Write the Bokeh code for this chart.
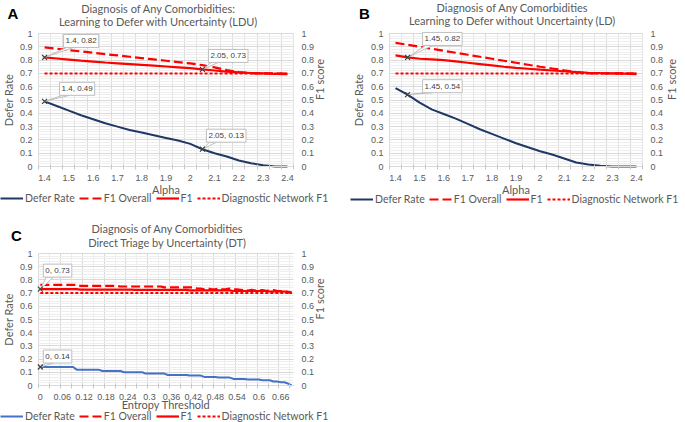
import math
import numpy as np
from bokeh.plotting import figure
from bokeh.models import (Range1d, FixedTicker, LinearAxis, Label, Legend, LegendItem,
                          CustomJSTickFormatter, Grid)
from bokeh.layouts import row, column
from bokeh.embed import file_html
from bokeh.resources import INLINE

# ---------------- data ----------------
alpha = [1.4, 1.45, 1.5, 1.55, 1.6, 1.65, 1.7, 1.75, 1.8, 1.85, 1.9,
         1.95, 2.0, 2.05, 2.1, 2.15, 2.2, 2.25, 2.3, 2.35, 2.4]
alpha_ticks = [1.4, 1.5, 1.6, 1.7, 1.8, 1.9, 2.0, 2.1, 2.2, 2.3, 2.4]

# Panel A: Learning to Defer with Uncertainty (LDU)
ldu_defer = [0.49, 0.455, 0.42, 0.385, 0.355, 0.325, 0.30, 0.275, 0.255, 0.235, 0.215,
             0.195, 0.17, 0.13, 0.10, 0.075, 0.045, 0.025, 0.01, 0.0, 0.0]
ldu_f1_overall = [0.895, 0.885, 0.875, 0.865, 0.855, 0.845, 0.835, 0.825, 0.815, 0.805, 0.795,
                  0.785, 0.775, 0.762, 0.745, 0.725, 0.71, 0.70, 0.70, 0.70, 0.698]
ldu_f1 = [0.82, 0.812, 0.804, 0.796, 0.789, 0.782, 0.776, 0.77, 0.764, 0.758, 0.752,
          0.746, 0.74, 0.73, 0.722, 0.714, 0.707, 0.703, 0.70, 0.697, 0.695]

# Panel B: Learning to Defer without Uncertainty (LD)
ld_defer = [0.59, 0.54, 0.48, 0.43, 0.395, 0.36, 0.32, 0.28, 0.245, 0.21, 0.175,
            0.145, 0.115, 0.09, 0.06, 0.03, 0.015, 0.005, 0.0, 0.0, 0.0]
ld_f1_overall = [0.93, 0.915, 0.90, 0.885, 0.87, 0.855, 0.84, 0.825, 0.81, 0.795, 0.78,
                 0.765, 0.75, 0.737, 0.723, 0.71, 0.70, 0.70, 0.70, 0.70, 0.698]
ld_f1 = [0.835, 0.82, 0.81, 0.805, 0.80, 0.79, 0.78, 0.77, 0.76, 0.75, 0.742,
         0.735, 0.728, 0.722, 0.716, 0.71, 0.705, 0.702, 0.70, 0.698, 0.695]

# Panel C: Direct Triage by Uncertainty (DT)
entropy = [0.00, 0.01, 0.02, 0.03, 0.04, 0.05, 0.06, 0.07, 0.08, 0.09,
           0.10, 0.11, 0.12, 0.13, 0.14, 0.15, 0.16, 0.17, 0.18, 0.19,
           0.20, 0.21, 0.22, 0.23, 0.24, 0.25, 0.26, 0.27, 0.28, 0.29,
           0.30, 0.31, 0.32, 0.33, 0.34, 0.35, 0.36, 0.37, 0.38, 0.39,
           0.40, 0.41, 0.42, 0.43, 0.44, 0.45, 0.46, 0.47, 0.48, 0.49,
           0.50, 0.51, 0.52, 0.53, 0.54, 0.55, 0.56, 0.57, 0.58, 0.59,
           0.60, 0.61, 0.62, 0.63, 0.64, 0.65, 0.66, 0.67, 0.68, 0.69]
entropy_ticks = [0, 0.06, 0.12, 0.18, 0.24, 0.3, 0.36, 0.42, 0.48, 0.54, 0.6, 0.66]
dt_defer = [0.14, 0.14, 0.14, 0.14, 0.14, 0.14, 0.14, 0.14, 0.14, 0.14,
            0.12, 0.12, 0.12, 0.12, 0.12, 0.12, 0.12, 0.11, 0.11, 0.11,
            0.11, 0.11, 0.11, 0.10, 0.10, 0.10, 0.10, 0.10, 0.10, 0.09,
            0.09, 0.09, 0.09, 0.09, 0.09, 0.08, 0.08, 0.08, 0.08, 0.08,
            0.08, 0.075, 0.075, 0.075, 0.075, 0.065, 0.065, 0.065, 0.065, 0.06,
            0.06, 0.06, 0.06, 0.05, 0.05, 0.05, 0.05, 0.045, 0.045, 0.045,
            0.045, 0.04, 0.04, 0.04, 0.03, 0.03, 0.025, 0.025, 0.015, 0.0]
dt_f1_overall = [0.763, 0.763, 0.763, 0.763, 0.763, 0.763, 0.763, 0.763, 0.763, 0.763,
                 0.763, 0.755, 0.755, 0.755, 0.755, 0.755, 0.755, 0.755, 0.755, 0.755,
                 0.755, 0.755, 0.75, 0.75, 0.75, 0.75, 0.75, 0.75, 0.75, 0.75,
                 0.75, 0.75, 0.75, 0.75, 0.743, 0.743, 0.743, 0.743, 0.743, 0.743,
                 0.743, 0.743, 0.743, 0.735, 0.735, 0.728, 0.735, 0.728, 0.728, 0.735,
                 0.728, 0.73, 0.735, 0.728, 0.728, 0.725, 0.722, 0.72, 0.725, 0.72,
                 0.72, 0.722, 0.718, 0.72, 0.722, 0.718, 0.715, 0.715, 0.71, 0.705]
dt_f1 = [0.73, 0.73, 0.73, 0.73, 0.73, 0.73, 0.73, 0.73, 0.73, 0.73,
         0.73, 0.727, 0.727, 0.727, 0.727, 0.727, 0.727, 0.727, 0.727, 0.727,
         0.727, 0.727, 0.727, 0.727, 0.727, 0.727, 0.724, 0.724, 0.724, 0.724,
         0.724, 0.724, 0.724, 0.724, 0.724, 0.724, 0.724, 0.724, 0.724, 0.724,
         0.724, 0.72, 0.72, 0.72, 0.72, 0.72, 0.72, 0.72, 0.72, 0.72,
         0.72, 0.72, 0.72, 0.716, 0.716, 0.716, 0.716, 0.716, 0.716, 0.716,
         0.716, 0.716, 0.716, 0.712, 0.712, 0.712, 0.712, 0.712, 0.705, 0.70]

diagnostic_network_f1 = 0.70

# ---------------- styles ----------------
NAVY = "#203864"
BLUE = "#4472c4"
RED = "#ff0000"
GRID = "#d9d9d9"
VGRID = "#e2e2e2"
MINOR = "#eeeeee"
TXT = "#595959"
HUM = "Lato"
SANS = "Liberation Sans"

y_major = [i / 10 for i in range(11)]
y_minor = [i / 50 for i in range(51)]


def fmt():
    return CustomJSTickFormatter(code="return String(Math.round(tick*100)/100);")


def panel(x, defer, f1o, f1, *, W, H, box, xr, xticks, xgrid_major, xgrid_minor,
          xgrid_minor_color, xminor_ticks, defer_color, letter, letter_xy, titles,
          title_x, title_ys, xtitle, ylab_standoff, rlab_standoff, xlab_standoff,
          legend_xy, callouts):
    """box = (left, right, top, bottom) of the plotting area in pixels."""
    bl, br, bt, bb = box
    x0, x1 = xr
    ux = (x1 - x0) / (br - bl)          # data units per pixel (x)
    uy = 1.0 / (bb - bt)                # data units per pixel (y)
    p = figure(width=W, height=H,
               x_range=Range1d(x0 - bl * ux, x1 + (W - br) * ux),
               y_range=Range1d(-(H - bb) * uy, 1 + bt * uy),
               output_backend="svg", toolbar_location=None, title=None,
               min_border=0, x_axis_type=None, y_axis_type=None)
    p.outline_line_color = None

    # ---- axes at the plotting-area edges ----
    la = LinearAxis(fixed_location=x0, bounds=(0, 1), ticker=FixedTicker(ticks=y_major),
                    formatter=fmt(), axis_label="Defer Rate",
                    axis_label_standoff=ylab_standoff)
    ra = LinearAxis(fixed_location=x1, bounds=(0, 1), ticker=FixedTicker(ticks=y_major),
                    formatter=fmt(), axis_label="F1 score",
                    axis_label_standoff=rlab_standoff, axis_label_orientation=math.pi / 2)
    xa = LinearAxis(fixed_location=0, bounds=(x0, x1),
                    ticker=FixedTicker(ticks=xticks, minor_ticks=xminor_ticks),
                    formatter=fmt(), axis_label=xtitle, axis_label_standoff=xlab_standoff)
    p.add_layout(la, "left")
    p.add_layout(ra, "right")
    p.add_layout(xa, "below")
    for ax in (la, ra):
        ax.axis_line_color = None
        ax.major_tick_line_color = None
        ax.minor_tick_line_color = None
        ax.major_tick_out = 0
        ax.major_tick_in = 0
        ax.major_label_standoff = 6
    ra.major_label_standoff = 8
    xa.axis_line_color = GRID
    xa.major_tick_line_color = None
    xa.major_tick_out = 0
    xa.major_tick_in = 0
    xa.minor_tick_line_color = "#c8c8c8"
    xa.minor_tick_out = 3
    xa.minor_tick_in = 2
    xa.major_label_standoff = 5
    for ax in (la, ra, xa):
        ax.major_label_text_font = SANS
        ax.major_label_text_font_size = "9px"
        ax.major_label_text_color = TXT
        ax.axis_label_text_font = HUM
        ax.axis_label_text_font_size = "11px"
        ax.axis_label_text_font_style = "normal"
        ax.axis_label_text_color = TXT

    # ---- grids limited to the plotting area ----
    p.add_layout(Grid(dimension=0, ticker=FixedTicker(ticks=xgrid_major,
                                                      minor_ticks=xgrid_minor),
                      bounds=(x0, x1), cross_bounds=(0, 1), grid_line_color=GRID,
                      minor_grid_line_color=xgrid_minor_color))
    p.add_layout(Grid(dimension=1, ticker=FixedTicker(ticks=y_major, minor_ticks=y_minor),
                      bounds=(0, 1), cross_bounds=(x0, x1), grid_line_color=GRID,
                      minor_grid_line_color=MINOR))

    # ---- series ----
    r_def = p.line(x, defer, line_color=defer_color, line_width=2)
    r_f1o = p.line(x, f1o, line_color=RED, line_width=2.2, line_dash="9 4")
    r_f1 = p.line(x, f1, line_color=RED, line_width=2.2)
    r_dn = p.line(x, [diagnostic_network_f1] * len(x), line_color=RED, line_width=2,
                  line_dash="3 2")

    # ---- data callouts ----
    for (xi, yi, lo, bo) in callouts:
        p.patch([xi, xi + (lo + 3) * ux, xi + (lo + 10) * ux],
                [yi, yi + bo * uy, yi + bo * uy],
                fill_color="white", line_color="#bfbfbf", line_width=1)
        p.scatter([xi], [yi], marker="x", size=7, line_color="#404040", line_width=1.2)
        p.add_layout(Label(x=xi, y=yi, x_offset=lo, y_offset=bo,
                           text=f"{xi:g}, {yi:g}", text_align="left", text_baseline="bottom",
                           text_font=SANS, text_font_size="8px", text_color="#404040",
                           padding=2, background_fill_color="white",
                           border_line_color="#bfbfbf", border_line_width=1))

    # ---- panel letter and title (pixel positions from the top-left) ----
    p.add_layout(Label(x=letter_xy[0], y=H - letter_xy[1], x_units="screen",
                       y_units="screen", text=letter, text_align="center",
                       text_baseline="middle", text_font=SANS, text_font_size="15px",
                       text_font_style="bold", text_color="black"))
    for t, ty in zip(titles, title_ys):
        p.add_layout(Label(x=title_x, y=H - ty, x_units="screen", y_units="screen",
                           text=t, text_align="center", text_baseline="middle",
                           text_font=HUM, text_font_size="11px", text_color=TXT))

    # ---- legend ----
    lh = 12
    leg = Legend(items=[LegendItem(label="Defer Rate", renderers=[r_def]),
                        LegendItem(label="F1 Overall", renderers=[r_f1o]),
                        LegendItem(label="F1", renderers=[r_f1]),
                        LegendItem(label="Diagnostic Network F1", renderers=[r_dn])],
                 location=(legend_xy[0], H - legend_xy[1] - lh), orientation="horizontal",
                 glyph_width=23, glyph_height=lh, label_height=lh, label_width=0,
                 label_standoff=2, spacing=4, padding=0, margin=0,
                 label_text_font=HUM, label_text_font_size="10.5px",
                 label_text_color=TXT, border_line_color=None, background_fill_alpha=0)
    p.add_layout(leg)
    return p


a_bounds = np.round(np.arange(1.375, 2.4251, 0.05), 4).tolist()
a_major = a_bounds[::2]
e_bounds = np.round(np.arange(-0.005, 0.6951, 0.01), 4).tolist()
e_major = e_bounds[::6]
e_minor = e_bounds[::3]

# ---- panel A (page x 0..341, y 0..215) ----
pA = panel(alpha, ldu_defer, ldu_f1_overall, ldu_f1,
           W=341, H=215, box=(38, 293, 33, 166), xr=(1.375, 2.425),
           xticks=alpha_ticks, xgrid_major=a_major, xgrid_minor=a_bounds,
           xgrid_minor_color=VGRID, xminor_ticks=a_bounds, defer_color=NAVY,
           letter="A", letter_xy=(12.5, 12.5),
           titles=["Diagnosis of Any Comorbidities:",
                   "Learning to Defer with Uncertainty (LDU)"],
           title_x=158, title_ys=[8, 20.5], xtitle="Alpha",
           ylab_standoff=2, rlab_standoff=2, xlab_standoff=-1, legend_xy=(0, 191.5),
           callouts=[(alpha[0], ldu_f1[0], 19, 10), (alpha[0], ldu_defer[0], 15, 6),
                     (alpha[13], ldu_f1[13], 6, 7), (alpha[13], ldu_defer[13], 4, 7)])

# ---- panel B (page x 341..685, y 0..215) ----
pB = panel(alpha, ld_defer, ld_f1_overall, ld_f1,
           W=344, H=215, box=(48, 301, 33, 166), xr=(1.375, 2.425),
           xticks=alpha_ticks, xgrid_major=a_major, xgrid_minor=a_bounds,
           xgrid_minor_color=VGRID, xminor_ticks=a_bounds, defer_color=NAVY,
           letter="B", letter_xy=(23, 12.5),
           titles=["Diagnosis of Any Comorbidities",
                   "Learning to Defer without Uncertainty (LD)"],
           title_x=171, title_ys=[7, 20], xtitle="Alpha",
           ylab_standoff=3, rlab_standoff=5, xlab_standoff=-1, legend_xy=(9, 193),
           callouts=[(alpha[1], ld_f1[1], 15, 12), (alpha[1], ld_defer[1], 15, 2)])

# ---- panel C (page x 0..341, y 215..422) ----
pC = panel(entropy, dt_defer, dt_f1_overall, dt_f1,
           W=341, H=207, box=(38, 293, 38, 170), xr=(-0.005, 0.695),
           xticks=entropy_ticks, xgrid_major=e_major, xgrid_minor=e_minor,
           xgrid_minor_color=MINOR, xminor_ticks=e_minor, defer_color=BLUE,
           letter="C", letter_xy=(16, 20),
           titles=["Diagnosis of Any Comorbidities",
                   "Direct Triage by Uncertainty (DT)"],
           title_x=167, title_ys=[13, 27], xtitle="Entropy Threshold",
           ylab_standoff=2, rlab_standoff=2, xlab_standoff=-5, legend_xy=(0, 194.5),
           callouts=[(entropy[0], dt_f1[0], 3, 12), (entropy[0], dt_defer[0], 3, 4)])

layout = column(row(pA, pB), pC)
open("out.html", "w").write(file_html(layout, INLINE))
